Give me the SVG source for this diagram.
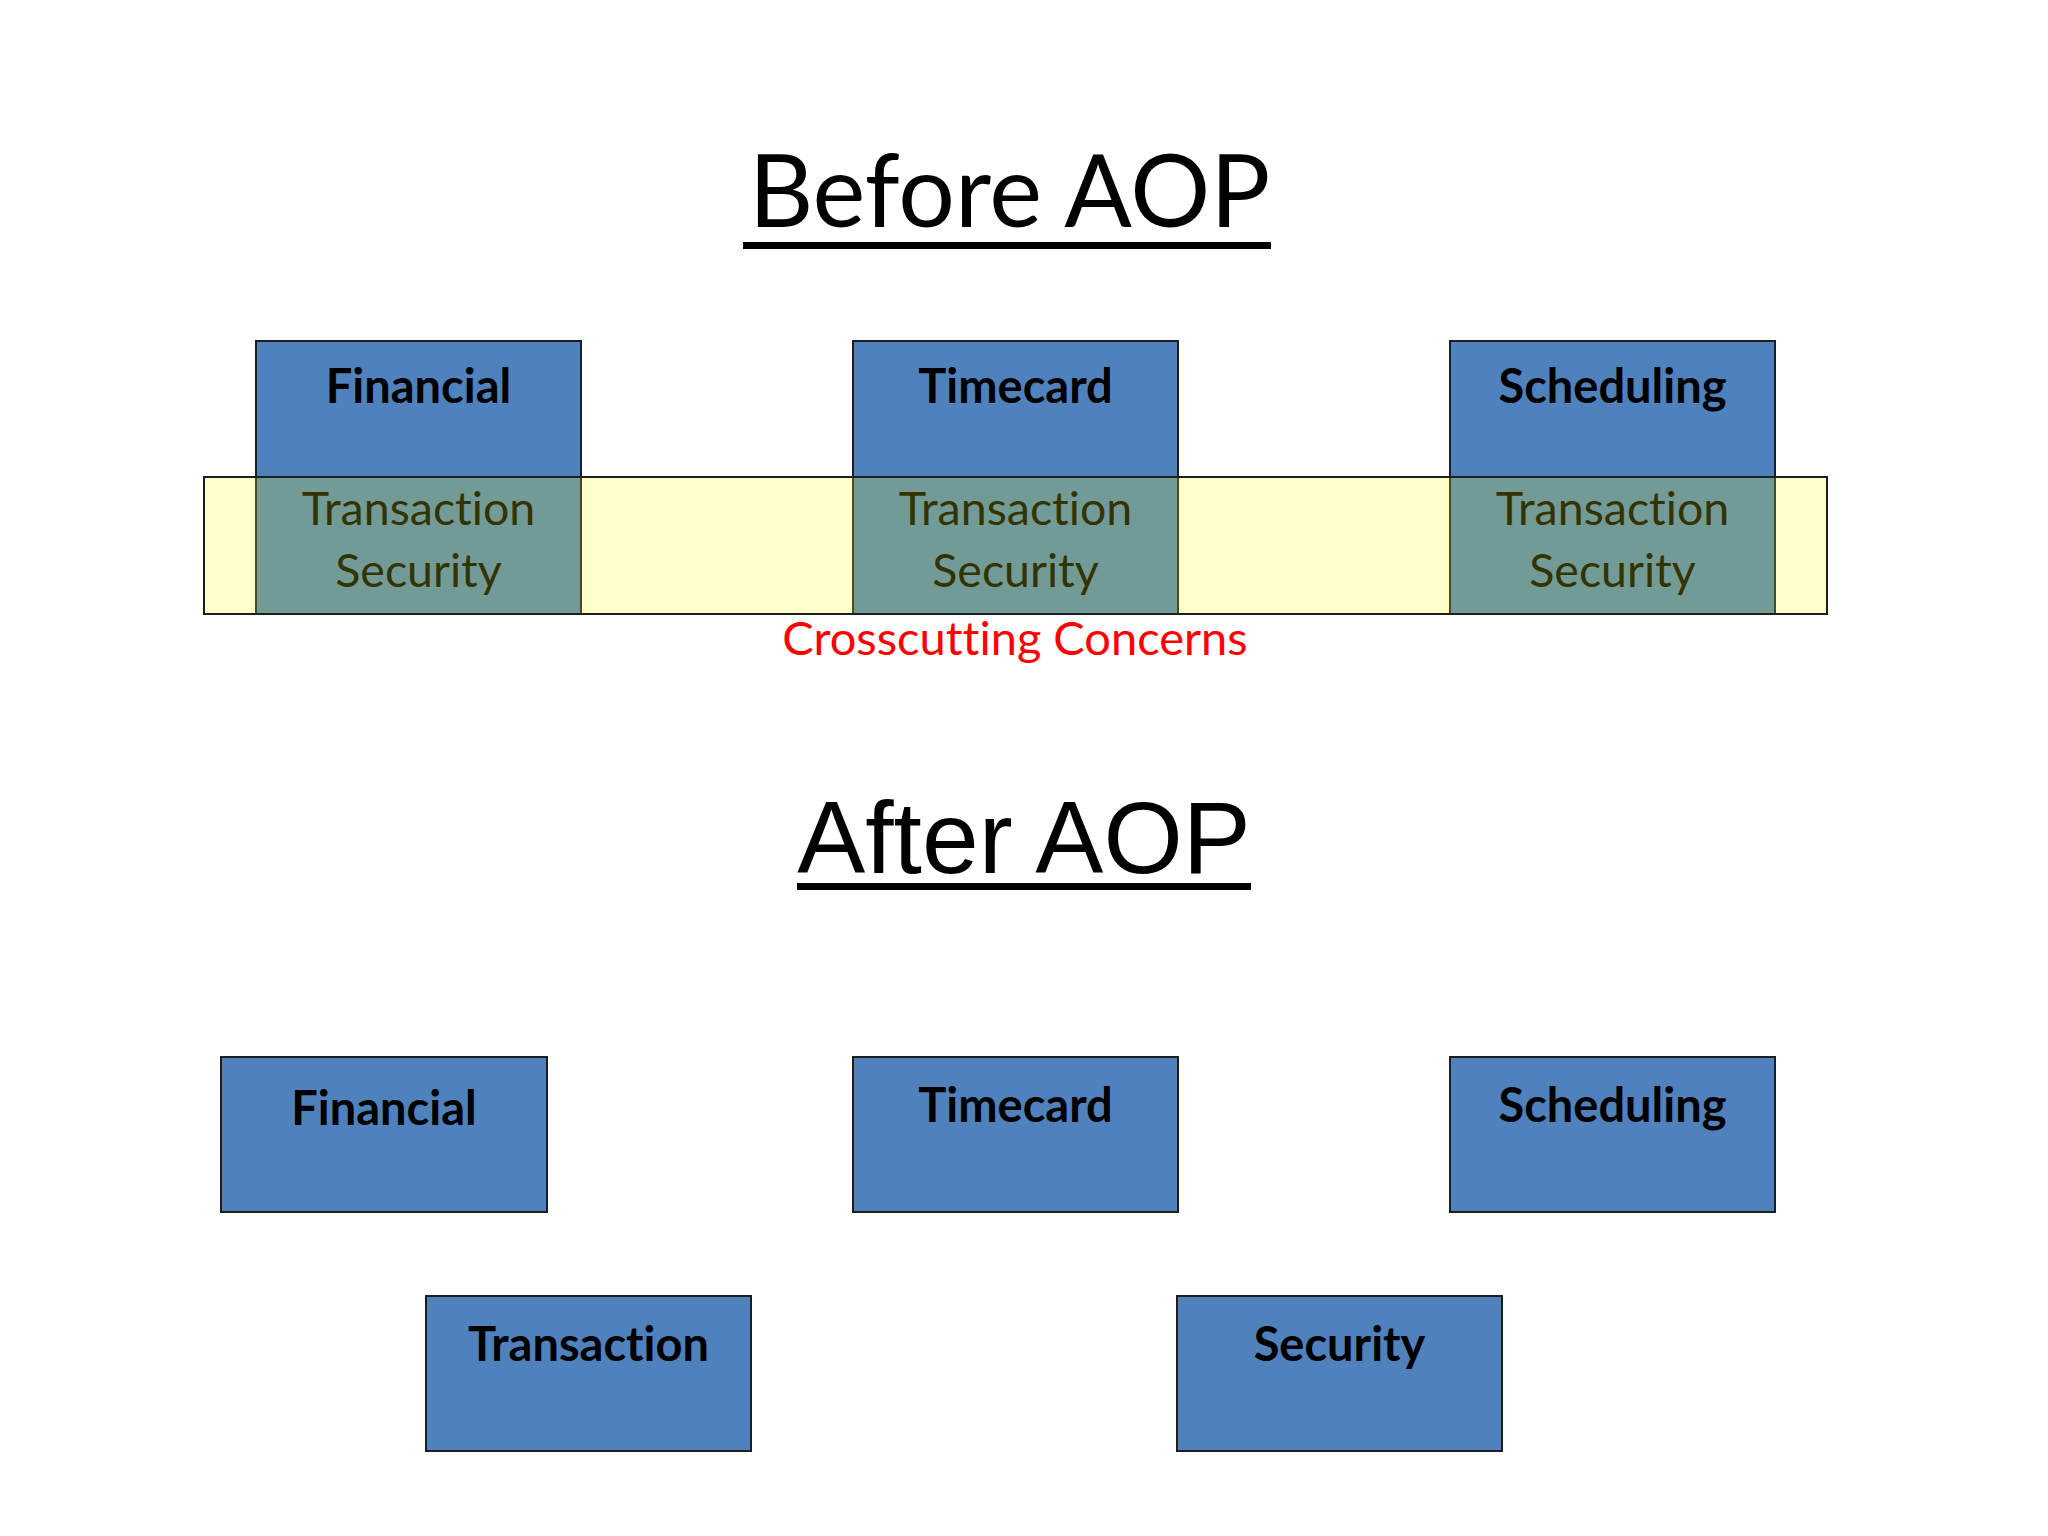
<svg xmlns="http://www.w3.org/2000/svg" width="2048" height="1536" viewBox="0 0 2048 1536">
<style>
text{font-variant-ligatures:none}
.box{fill:#4f81bd;stroke:#1e1e1e;stroke-width:2}
.lbl{font-family:Lato,"Open Sans",sans-serif;font-weight:bold;font-size:47px;fill:#000;text-anchor:middle}
.cc{font-family:Lato,"Open Sans",sans-serif;font-size:46.5px;fill:#000;text-anchor:middle}
.band{fill:#ffff00;fill-opacity:0.2;stroke:#1e1e1e;stroke-width:2}
</style>
<rect x="0" y="0" width="2048" height="1536" fill="#ffffff"/>
<g id="title-before">
<text x="1009.5" y="227" font-family="Lato,'Open Sans',sans-serif" font-size="100" text-anchor="middle" fill="#000">Before AOP</text>
<rect x="743" y="242" width="528" height="7" fill="#000"/>
</g>
<g id="before-financial">
<rect class="box" x="256" y="341" width="325" height="273"/>
<text class="lbl" x="418.5" y="403">Financial</text>
<text class="cc" x="418.5" y="525">Transaction</text>
<text class="cc" x="418.5" y="587">Security</text>
</g>
<g id="before-timecard">
<rect class="box" x="853" y="341" width="325" height="273"/>
<text class="lbl" x="1015.5" y="403">Timecard</text>
<text class="cc" x="1015.5" y="525">Transaction</text>
<text class="cc" x="1015.5" y="587">Security</text>
</g>
<g id="before-scheduling">
<rect class="box" x="1450" y="341" width="325" height="273"/>
<text class="lbl" x="1612.5" y="403">Scheduling</text>
<text class="cc" x="1612.5" y="525">Transaction</text>
<text class="cc" x="1612.5" y="587">Security</text>
</g>
<g id="crosscutting-band">
<rect class="band" x="204" y="477" width="1623" height="137"/>
<text x="1015" y="655" font-family="Lato,'Open Sans',sans-serif" font-size="47" text-anchor="middle" fill="#ff0000">Crosscutting Concerns</text>
</g>
<g id="title-after">
<text x="1024" y="873" font-family="'Liberation Sans',Arial,sans-serif" font-size="102" text-anchor="middle" fill="#000">After AOP</text>
<rect x="797" y="883" width="454" height="7" fill="#000"/>
</g>
<g id="after-financial">
<rect class="box" x="221" y="1057" width="326" height="155"/>
<text class="lbl" x="384" y="1125">Financial</text>
</g>
<g id="after-timecard">
<rect class="box" x="853" y="1057" width="325" height="155"/>
<text class="lbl" x="1015.5" y="1122">Timecard</text>
</g>
<g id="after-scheduling">
<rect class="box" x="1450" y="1057" width="325" height="155"/>
<text class="lbl" x="1612.5" y="1122">Scheduling</text>
</g>
<g id="after-transaction">
<rect class="box" x="426" y="1296" width="325" height="155"/>
<text class="lbl" x="588.5" y="1361">Transaction</text>
</g>
<g id="after-security">
<rect class="box" x="1177" y="1296" width="325" height="155"/>
<text class="lbl" x="1339.5" y="1361">Security</text>
</g>
<g id="connectors"/>
</svg>
